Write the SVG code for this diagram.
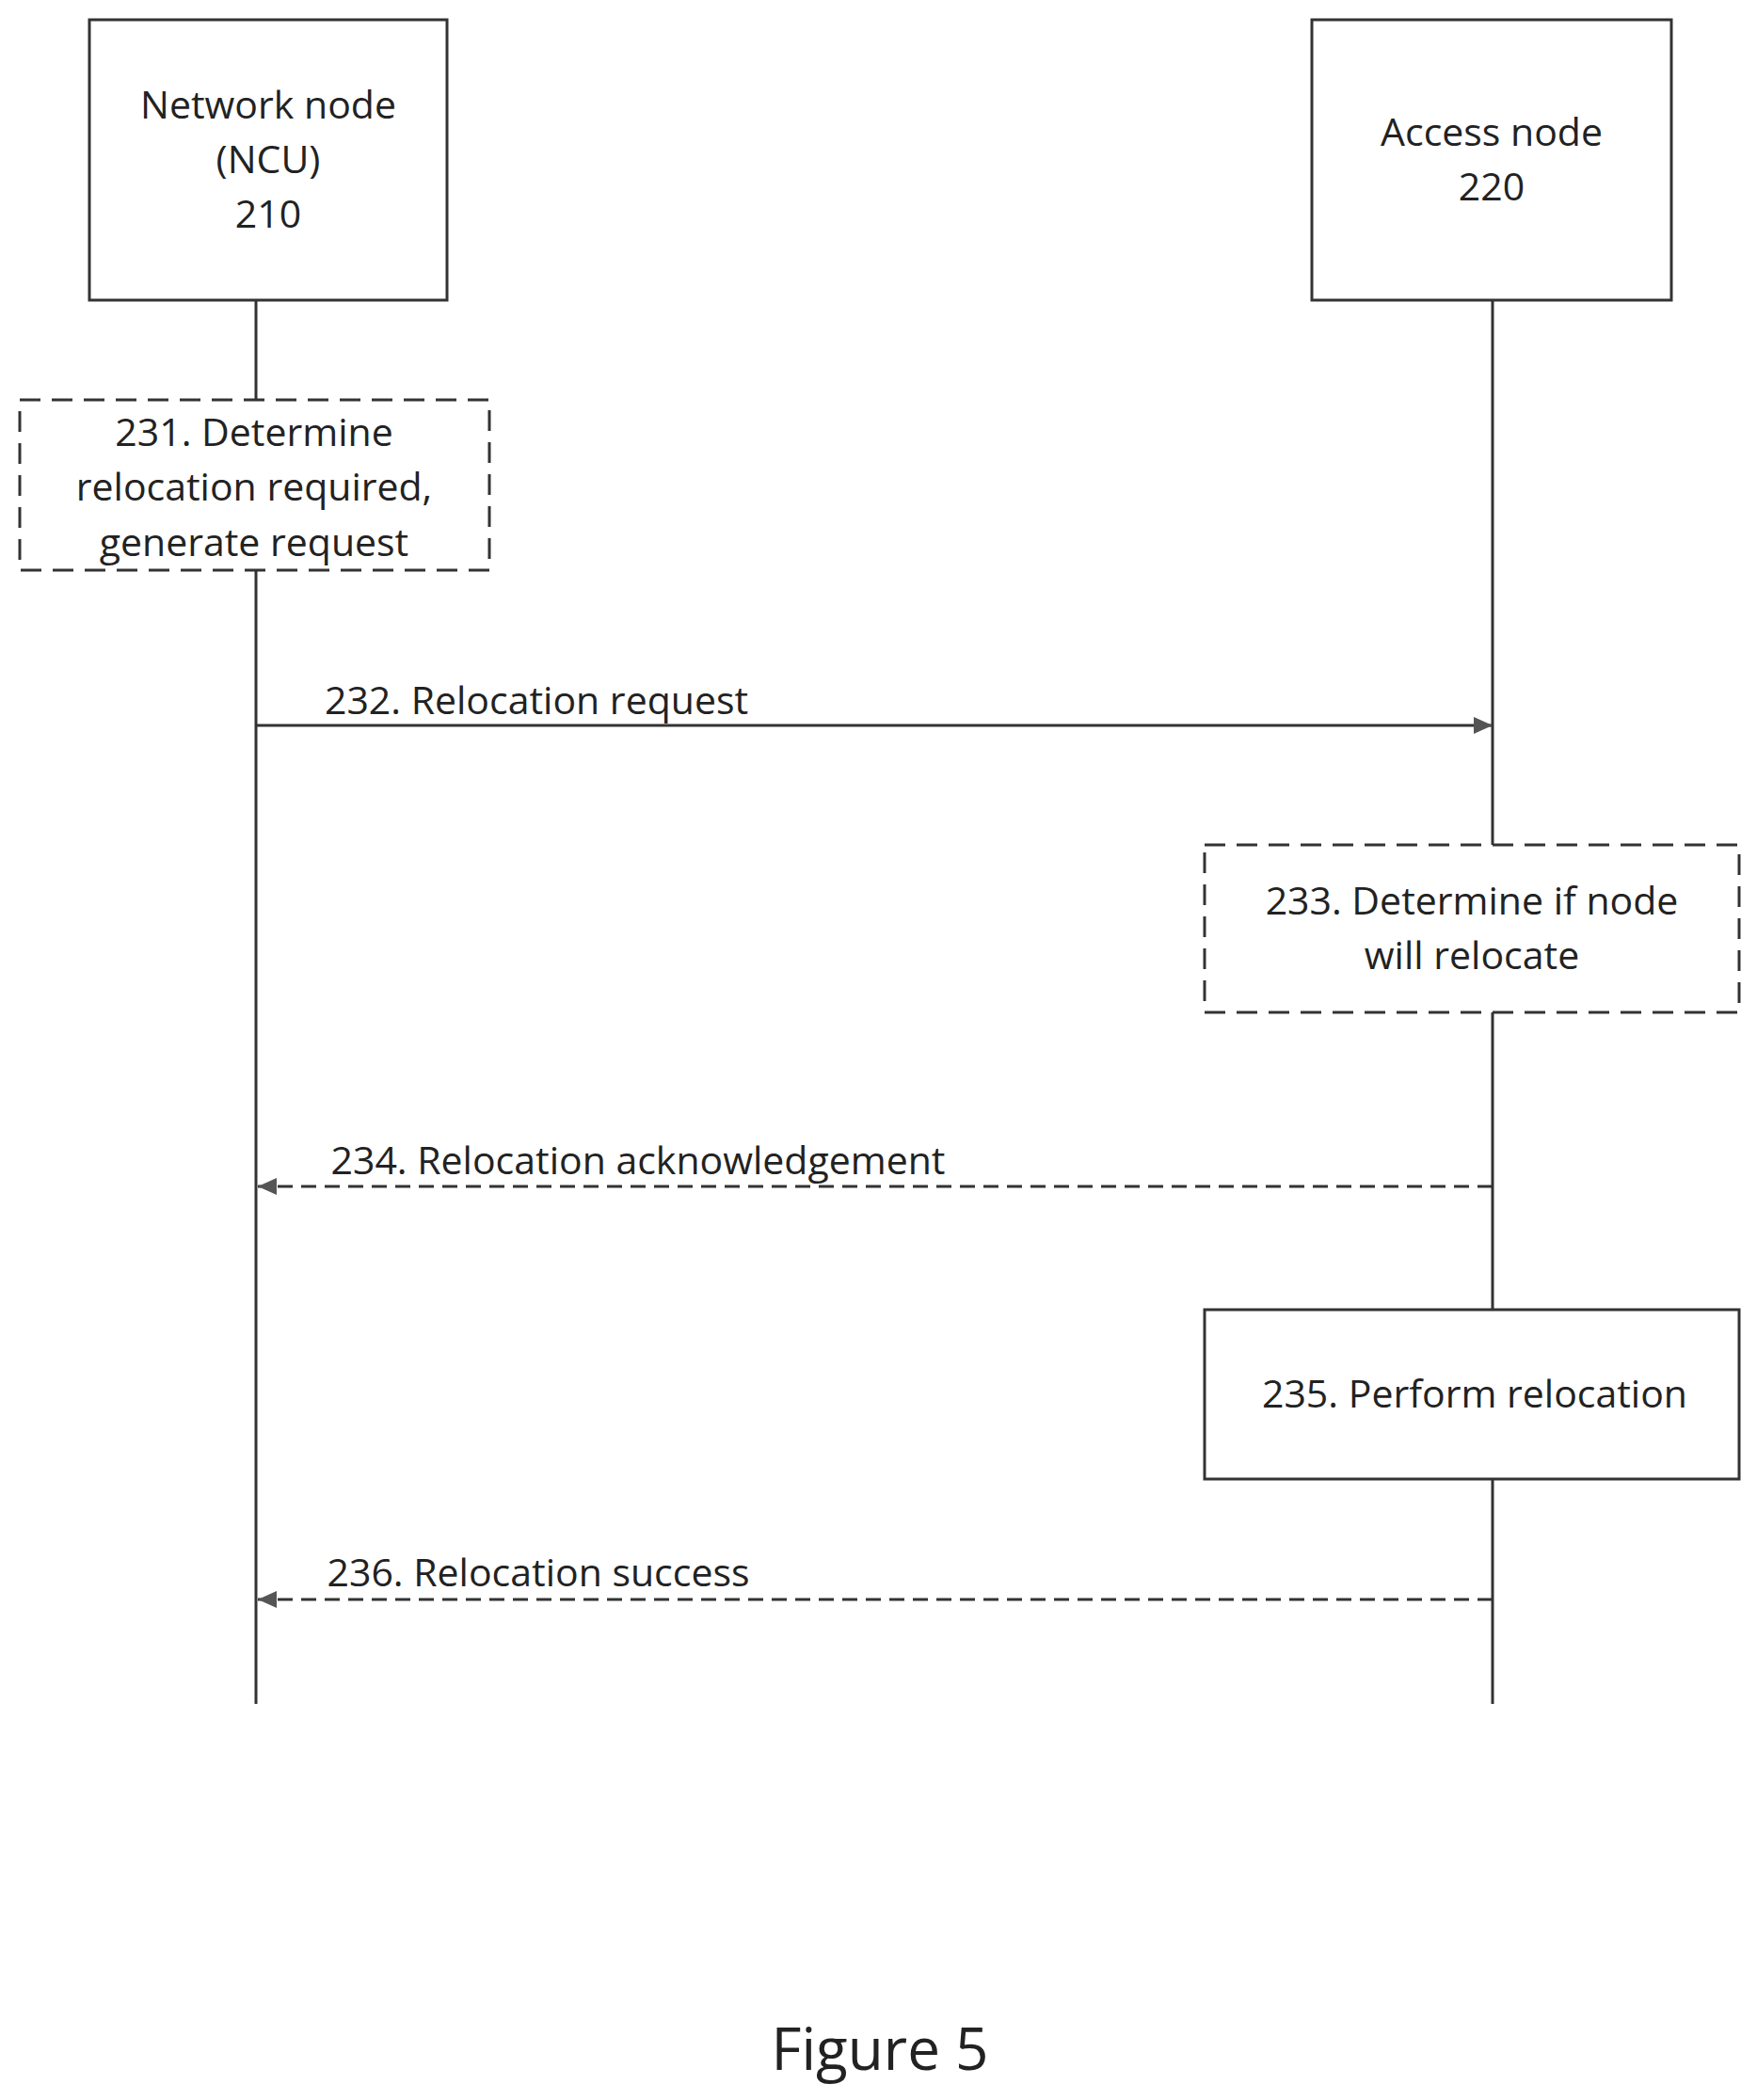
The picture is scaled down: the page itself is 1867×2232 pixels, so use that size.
<svg xmlns="http://www.w3.org/2000/svg" width="1867" height="2232" viewBox="0 0 1867 2232">
<style>
text{font-family:"Open Sans","Liberation Sans",sans-serif;font-size:41px;fill:#222;text-anchor:middle}
.b{fill:#fff;stroke:#333;stroke-width:3}
.d{fill:#fff;stroke:#333;stroke-width:3;stroke-dasharray:22,12}
.l{stroke:#333;stroke-width:3;fill:none}
.ld{stroke:#333;stroke-width:3;fill:none;stroke-dasharray:16,9}
</style>
<defs>
<marker id="ah" markerWidth="20" markerHeight="18" refX="20" refY="9" orient="auto" markerUnits="userSpaceOnUse" viewBox="0 0 20 18"><path d="M0,0 L20,9 L0,18 z" fill="#555"/></marker>
</defs>
<rect width="1867" height="2232" fill="#fff"/>
<g id="lifelines">
<line class="l" x1="272" y1="319" x2="272" y2="1811"/>
<line class="l" x1="1586" y1="319" x2="1586" y2="1811"/>
</g>
<g id="n210"><rect class="b" x="95" y="21" width="380" height="298"/>
<text x="285" y="126">Network node</text><text x="285" y="184">(NCU)</text><text x="285" y="242">210</text></g>
<g id="n220"><rect class="b" x="1394" y="21" width="382" height="298"/>
<text x="1585" y="155">Access node</text><text x="1585" y="213">220</text></g>
<g id="n231"><rect class="d" x="21" y="425" width="499" height="181"/>
<text x="270" y="474">231. Determine</text><text x="270" y="532">relocation required,</text><text x="270" y="591">generate request</text></g>
<g id="n233"><rect class="d" x="1280" y="898" width="568" height="178"/>
<text x="1564" y="972">233. Determine if node</text><text x="1564" y="1030">will relocate</text></g>
<g id="n235"><rect class="b" x="1280" y="1392" width="568" height="180"/>
<text x="1567" y="1496">235. Perform relocation</text></g>
<g id="connectors">
<line class="l" x1="272" y1="771" x2="1586" y2="771" marker-end="url(#ah)"/>
<text x="570" y="759">232. Relocation request</text>
<line class="ld" x1="1586" y1="1261" x2="274" y2="1261" marker-end="url(#ah)"/>
<text x="678" y="1248">234. Relocation acknowledgement</text>
<line class="ld" x1="1586" y1="1700" x2="274" y2="1700" marker-end="url(#ah)"/>
<text x="572" y="1686">236. Relocation success</text>
</g>
<text x="935" y="2200" style="font-size:62px">Figure 5</text>
</svg>
